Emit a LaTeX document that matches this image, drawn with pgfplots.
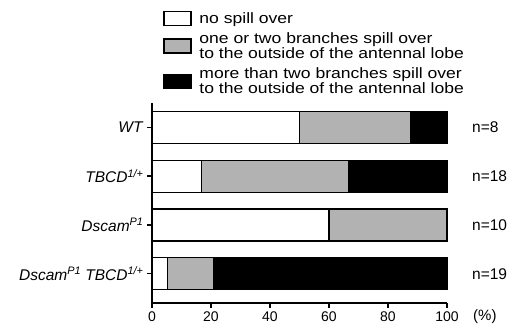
\documentclass[border=0pt]{standalone}
\usepackage{fontspec}
\setmainfont{Liberation Sans}
\newfontfamily\legendfont[FakeStretch=1.17]{Liberation Sans}
\usepackage{pgfplots}
\pgfplotsset{compat=1.18}
\newcommand{\sitalic}[1]{\textsuperscript{\textit{#1}}}
\begin{document}
\begin{tikzpicture}
\begin{axis}[
  scale only axis,
  width=295pt, height=200pt,
  xbar stacked,
  bar width=32pt,
  xmin=0, xmax=100,
  ymin=-0.6, ymax=3.5,
  axis lines=left,
  axis line style={-, line width=1.4pt},
  xtick={0,20,40,60,80,100},
  ytick={0,1,2,3},
  yticklabels={{\textit{Dscam}\sitalic{P1} \textit{TBCD}\sitalic{1/+}},{\textit{Dscam}\sitalic{P1}},{\textit{TBCD}\sitalic{1/+}},{\textit{WT}}},
  tick style={line width=1.4pt, black},
  major tick length=5pt,
  tick align=outside,
  xtick pos=bottom, ytick pos=left,
  xticklabel style={font=\fontsize{14}{16}\selectfont},
  yticklabel style={font=\fontsize{15.5}{17}\selectfont},
  /pgf/number format/assume math mode=true,
  clip=false,
  legend style={draw=none, fill=none, inner sep=0pt, at={(rel axis cs:0.037,1.465)}, anchor=north west,
    font=\legendfont\fontsize{15}{13}\selectfont, cells={anchor=west, align=left}, row sep=4pt},
  legend image code/.code={\draw[#1, line width=1.5pt] (0pt,-7pt) rectangle (27pt,7pt); \path (33pt,0pt);},
]
\addplot[draw=black, line width=1.2pt, fill=white] coordinates {(50,3) (16.67,2) (60,1) (5.26,0)};
\addlegendentry{no spill over}
\addplot[draw=black, line width=1.2pt, fill=gray!60] coordinates {(37.5,3) (50,2) (40,1) (15.79,0)};
\addlegendentry{one or two branches spill over\\to the outside of the antennal lobe}
\addplot[draw=black, line width=1.2pt, fill=black] coordinates {(12.5,3) (33.33,2) (0,1) (78.95,0)};
\addlegendentry{more than two branches spill over\\to the outside of the antennal lobe}
\node[anchor=west, inner sep=0pt, font=\fontsize{15.5}{17}\selectfont] at ([xshift=25pt]axis cs:100,3) {n=8};
\node[anchor=west, inner sep=0pt, font=\fontsize{15.5}{17}\selectfont] at ([xshift=25pt]axis cs:100,2) {n=18};
\node[anchor=west, inner sep=0pt, font=\fontsize{15.5}{17}\selectfont] at ([xshift=25pt]axis cs:100,1) {n=10};
\node[anchor=west, inner sep=0pt, font=\fontsize{15.5}{17}\selectfont] at ([xshift=25pt]axis cs:100,0) {n=19};
\node[anchor=west, inner sep=0pt, font=\fontsize{15}{17}\selectfont] at ([xshift=26pt,yshift=-14pt]axis cs:100,-0.6) {(\%)};
\coordinate (bl) at (rel axis cs:0,0);
\end{axis}
\pgfresetboundingbox
\path (bl) ++(-152pt,-26pt) rectangle ++(522pt,329pt);
\end{tikzpicture}
\end{document}
